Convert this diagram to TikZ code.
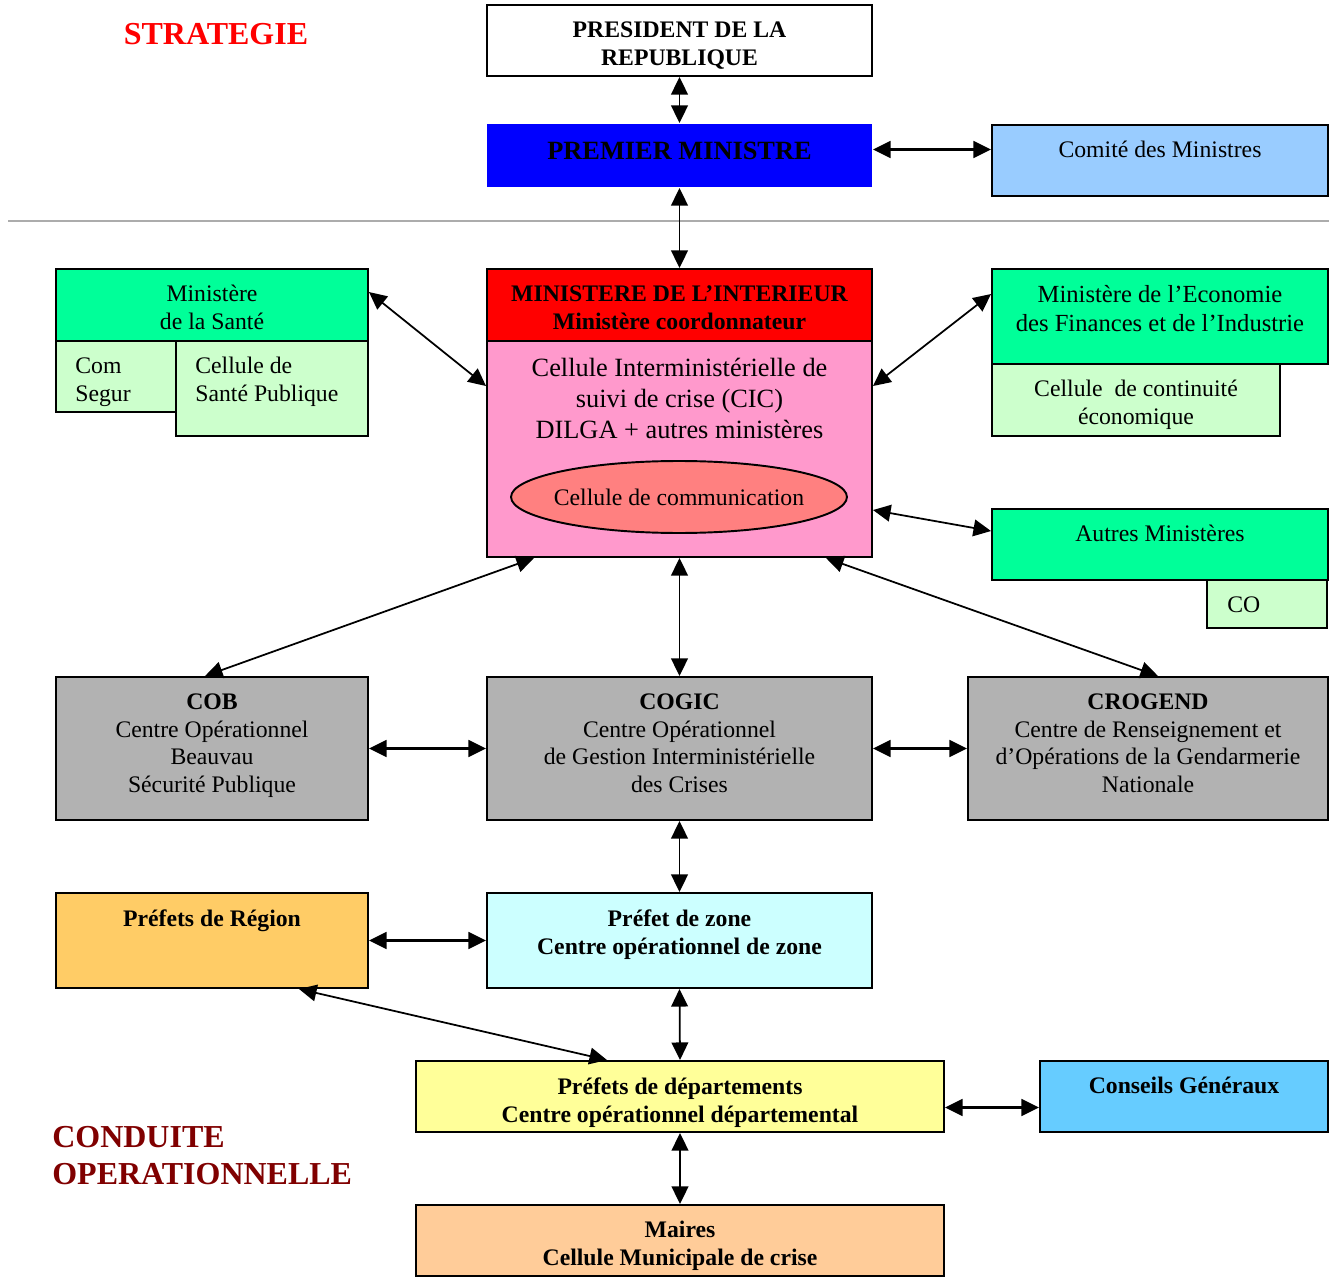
\documentclass[tikz,border=0pt]{standalone}
\usepackage{fontspec}
\setmainfont{Liberation Serif}
\usetikzlibrary{calc, positioning, fit, shapes, arrows.meta}

\definecolor{bleuPM}{RGB}{0,0,255}
\definecolor{bleuclair}{RGB}{153,204,255}
\definecolor{vert}{RGB}{0,255,153}
\definecolor{vertclair}{RGB}{204,255,204}
\definecolor{rose}{RGB}{255,153,204}
\definecolor{saumon}{RGB}{255,128,128}
\definecolor{gris}{RGB}{178,178,178}
\definecolor{ocre}{RGB}{255,204,102}
\definecolor{cyanclair}{RGB}{204,255,255}
\definecolor{jaune}{RGB}{255,255,153}
\definecolor{bleuCG}{RGB}{102,204,255}
\definecolor{peche}{RGB}{255,204,153}
\definecolor{bordeaux}{RGB}{128,0,0}

\begin{document}
\begin{tikzpicture}[x=0.02cm, y=-0.02cm, node distance=0.34cm,
  box/.style={draw, line width=1.1pt, inner sep=0pt},
  txt/.style={inner sep=0pt, align=center, font=\fontsize{13.5}{15.9}\selectfont},
  txtb/.style={txt, font=\fontsize{13.5}{15.9}\selectfont\bfseries},
  titre/.style={inner sep=0pt, align=left, font=\fontsize{18.2}{21}\selectfont\bfseries},
  lien/.style={{Triangle[length=10pt,width=9.5pt]}-{Triangle[length=10pt,width=9.5pt]}, line width=1pt}]
  \useasboundingbox (0,0) rectangle (1329,1277);

  \node[titre, text=red] (strategie) at (216,34) {STRATEGIE};
  \node[titre, text=bordeaux, anchor=west] (conduite) at (52,1156) {CONDUITE\\OPERATIONNELLE};
  \draw[gray!65, line width=1.2pt] (8,221) -- (1329,221);

  \node[box, fill=white, fit={(487,5) (872,76)}] (pres) {};
  \node[txtb, below=of pres.north] (t-pres) {PRESIDENT DE LA\\REPUBLIQUE};
  \node[box, draw=none, fill=bleuPM, fit={(487,124) (872,187)}] (pm) {};
  \node[txtb, font=\fontsize{15}{18}\selectfont\bfseries, below=0.38cm of pm.north] (t-pm) {PREMIER MINISTRE};
  \node[box, fill=bleuclair, fit={(992,125) (1328,196)}] (com) {};
  \node[txt, below=of com.north] (t-com) {Comité des Ministres};

  \node[box, fill=vert, fit={(56,269) (368,341)}] (sante) {};
  \node[txt, below=of sante.north] (t-sante) {Ministère\\de la Santé};
  \node[box, fill=vertclair, fit={(56,341) (176,412)}] (segur) {};
  \node[txt, align=left, below right=0.34cm and 0.4cm of segur.north west] (t-segur) {Com\\Segur};
  \node[box, fill=vertclair, fit={(176,341) (368,436)}] (santepub) {};
  \node[txt, align=left, below right=0.34cm and 0.4cm of santepub.north west] (t-santepub) {Cellule de\\Santé Publique};

  \node[box, fill=red, fit={(487,269) (872,341)}] (mi) {};
  \node[txtb, below=of mi.north] (t-mi) {MINISTERE DE L’INTERIEUR\\Ministère coordonnateur};
  \node[box, fill=rose, fit={(487,341) (872,557)}] (cic) {};
  \node[txt, font=\fontsize{15}{17.6}\selectfont, below=0.35cm of cic.north] (t-cic) {Cellule Interministérielle de\\suivi de crise (CIC)\\DILGA + autres ministères};
  \node[ellipse, draw, line width=1.1pt, fill=saumon, inner ysep=0pt, inner xsep=-0.16cm, minimum width=6.72cm, minimum height=1.44cm, font=\fontsize{13.5}{15.9}\selectfont] (comm) at (679,497) {Cellule de communication};

  \node[box, fill=vert, fit={(992,269) (1328,364)}] (eco) {};
  \node[txt, font=\fontsize{14}{16.5}\selectfont, below=of eco.north] (t-eco) {Ministère de l’Economie\\des Finances et de l’Industrie};
  \node[box, fill=vertclair, fit={(992,364) (1280,436)}] (continuite) {};
  \node[txt, below=of continuite.north] (t-continuite) {Cellule\ \ de continuité\\économique};
  \node[box, fill=vert, fit={(992,509) (1328,580)}] (autres) {};
  \node[txt, below=of autres.north] (t-autres) {Autres Ministères};
  \node[box, fill=vertclair, fit={(1207,580) (1327,628)}] (co) {};
  \node[txt, align=left, below right=0.34cm and 0.42cm of co.north west] (t-co) {CO};

  \node[box, fill=gris, fit={(56,677) (368,820)}] (cob) {};
  \node[txt, below=of cob.north] (t-cob) {\textbf{COB}\\Centre Opérationnel\\Beauvau\\Sécurité Publique};
  \node[box, fill=gris, fit={(487,677) (872,820)}] (cogic) {};
  \node[txt, below=of cogic.north] (t-cogic) {\textbf{COGIC}\\Centre Opérationnel\\de Gestion Interministérielle\\des Crises};
  \node[box, fill=gris, fit={(968,677) (1328,820)}] (crogend) {};
  \node[txt, below=of crogend.north] (t-crogend) {\textbf{CROGEND}\\Centre de Renseignement et\\d’Opérations de la Gendarmerie\\Nationale};

  \node[box, fill=ocre, fit={(56,893) (368,988)}] (region) {};
  \node[txtb, below=of region.north] (t-region) {Préfets de Région};
  \node[box, fill=cyanclair, fit={(487,893) (872,988)}] (zone) {};
  \node[txtb, below=of zone.north] (t-zone) {Préfet de zone\\Centre opérationnel de zone};
  \node[box, fill=jaune, fit={(416,1061) (944,1132)}] (dept) {};
  \node[txtb, below=of dept.north] (t-dept) {Préfets de départements\\Centre opérationnel départemental};
  \node[box, fill=bleuCG, fit={(1040,1061) (1328,1132)}] (conseils) {};
  \node[txtb, below=of conseils.north] (t-conseils) {Conseils Généraux};
  \node[box, fill=peche, fit={(416,1205) (944,1276)}] (maires) {};
  \node[txtb, below=of maires.north] (t-maires) {Maires\\Cellule Municipale de crise};

  \draw[lien] (pres.south) -- (pm.north);
  \draw[lien, line width=1.3pt] ($(pm.east)+(0,-6)$) -- ($(com.west)+(0,-11)$);
  \draw[lien] (pm.south) -- (mi.north);
  \draw[lien] ($(sante.north east)+(0,24)$) -- ($(cic.north west)+(0,46)$);
  \draw[lien] ($(eco.north west)+(0,26)$) -- ($(cic.north east)+(0,46)$);
  \draw[lien] ($(autres.north west)+(0,23)$) -- ($(cic.north east)+(0,170)$);
  \draw[lien] ($(cic.south west)+(48,0)$) -- ($(cob.north)+(-7,0)$);
  \draw[lien] (cic.south) -- (cogic.north);
  \draw[lien] ($(cic.south east)+(-47,0)$) -- ($(crogend.north)+(10,0)$);
  \draw[lien, line width=1.3pt] (cob) -- (cogic);
  \draw[lien, line width=1.3pt] (cogic) -- (crogend);
  \draw[lien] (cogic.south) -- (zone.north);
  \draw[lien, line width=1.3pt] (region) -- (zone);
  \draw[lien] ($(region.south east)+(-70,0)$) -- ($(dept.north)+(-73,0)$);
  \draw[lien] (zone.south) -- (dept.north);
  \draw[lien, line width=1.3pt] ($(dept.east)+(0,11)$) -- ($(conseils.west)+(0,11)$);
  \draw[lien] (dept.south) -- (maires.north);
\end{tikzpicture}
\end{document}
